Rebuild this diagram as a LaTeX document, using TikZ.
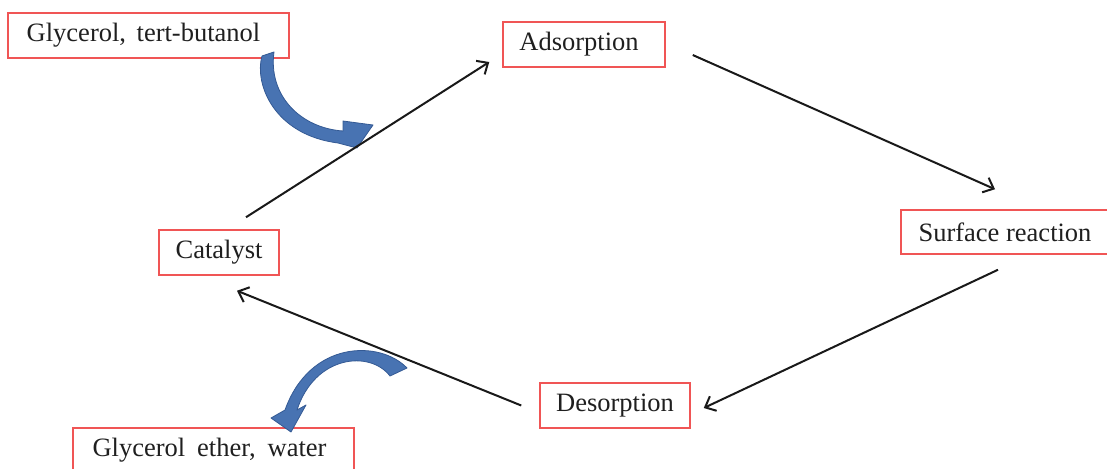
\documentclass[tikz,border=0pt]{standalone}
\usepackage{fontspec}
\setmainfont{Liberation Serif}
\usetikzlibrary{arrows.meta,calc}
\definecolor{boxred}{RGB}{240,85,85}
\definecolor{arrblue}{RGB}{72,115,178}
\definecolor{arrblueedge}{RGB}{52,90,148}
\begin{document}
\begin{tikzpicture}[x=1pt,y=-1pt,
  box/.style={draw=boxred, line width=1.5pt, inner sep=0pt,
    font=\fontsize{26.5}{30}\selectfont, text=black!88},
  flow/.style={line width=2pt, draw=black!90,
    -{Straight Barb[length=9pt,width=16pt,line width=2pt]}},
  bluearrow/.style={fill=arrblue, draw=arrblueedge, line width=0.8pt, line join=round}]
\useasboundingbox (0,0) rectangle (1107,468);

% boxes
\node[box, minimum width=281pt, minimum height=45pt] (gt) at (148.5,35.5) {\hspace{-10pt}Glycerol,\hspace{0.15em} tert-butanol};
\node[box, minimum width=162pt, minimum height=45pt] (ads) at (584,44.5) {\hspace{-10pt}Adsorption};
\node[box, minimum width=208pt, minimum height=44pt] (surf) at (1005,232) {Surface reaction};
\node[box, minimum width=120pt, minimum height=45pt] (cat) at (219,252.5) {Catalyst};
\node[box, minimum width=150pt, minimum height=45pt] (des) at (615,405.5) {Desorption};
\node[box, minimum width=281pt, minimum height=45pt] (ge) at (213.5,450.5) {\hspace{-8pt}Glycerol\hspace{0.2em} ether,\hspace{0.2em} water};

% blue curved arrows
\path[bluearrow] (262,56) .. controls (254,85) and (275,135) .. (338,143)
  -- (357,148) -- (373,125) -- (343,121) -- (343,131)
  .. controls (300,128) and (268,95) .. (274,52) -- cycle;
\path[bluearrow] (407,368) .. controls (380,340) and (310,340) .. (285,410)
  -- (271,418) -- (291,432) -- (306,405) -- (297,410)
  .. controls (315,355) and (370,350) .. (390,376) -- cycle;

% cycle arrows
\draw[flow] ($(cat.north)+(27,-12)$) -- ($(ads.west)+(-13,17.5)$);
\draw[flow] ($(ads.east)+(27,10.5)$) -- ($(surf.north)+(-10,-20)$);
\draw[flow] ($(surf.south)+(-7,15)$) -- ($(des.east)+(13,2.5)$);
\draw[flow] ($(des.west)+(-18,0)$) -- ($(cat.south)+(18,15)$);
\end{tikzpicture}
\end{document}
